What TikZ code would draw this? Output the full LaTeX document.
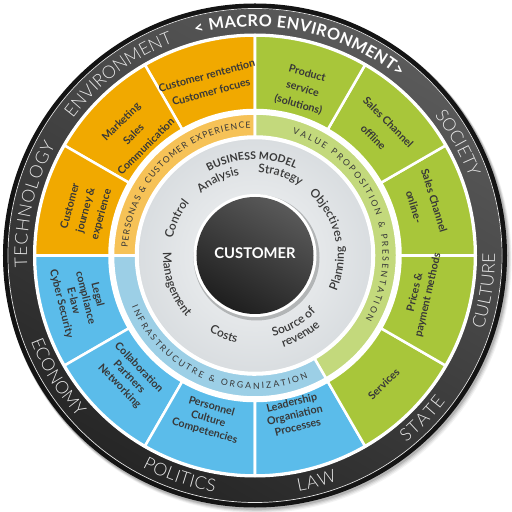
\documentclass[tikz,border=0pt]{standalone}
\usepackage{fontspec}
\setmainfont{Lato}
\IfFontExistsTF{Lato Light}{\newfontfamily\ringfont{Lato Light}}{\newfontfamily\ringfont{Lato}}
\IfFontExistsTF{Lato Semibold}{\newfontfamily\wordfont{Lato Semibold}}{\newcommand\wordfont{\bfseries}}
\usetikzlibrary{decorations.text}
\usepackage{xcolor}

\definecolor{ringdark}{HTML}{262626}
\definecolor{ringlight}{HTML}{5A5A5A}
\definecolor{ringedge}{HTML}{141414}
\definecolor{ringtext}{HTML}{E9E9E9}
\definecolor{orangecell}{HTML}{F1A900}
\definecolor{orangeband}{HTML}{F6C257}
\definecolor{greencell}{HTML}{A8C63A}
\definecolor{greenband}{HTML}{C3D97C}
\definecolor{bluecell}{HTML}{5BBCEA}
\definecolor{blueband}{HTML}{9CCFE6}
\definecolor{greyring}{HTML}{D9DDE0}
\definecolor{txtdark}{HTML}{383838}

\tikzset{
        cell/.style={fill=#1, draw=white, line width=1.8pt, line join=round},
        celltext/.style={text=txtdark, align=center, inner sep=0pt,
            font=\bfseries\fontsize{7.6}{#1}\selectfont},
}

\newcommand\outerfont{\ringfont\fontsize{12.5}{14}\selectfont\color{ringtext}}
\newcommand\bandfont{\fontsize{6.2}{7}\selectfont\color{txtdark}}

% annular sector: start, end, inner radius, outer radius, style
\newcommand\ringsector[5]{%
        \path[#5] (#1:#4) arc[start angle=#1, end angle=#2, radius=#4]
            -- (#2:#3) arc[start angle=#2, end angle=#1, radius=#3] -- cycle;}
% text spread along an arc: radius, from, to, format, text
\newcommand\ringlabel[5]{%
        \path[decorate, decoration={text along path, text align=fit to path,
            text={|#4|#5}}] (#2:#1) arc[start angle=#2, end angle=#3, radius=#1];}
% word centred on an arc: radius, from, to, text
\newcommand\ringword[4]{%
        \path[decorate, decoration={text along path, text align=center,
            text={|\wordfont\fontsize{8.5}{10}\selectfont\color{txtdark}|#4}}]
            (#2:#1) arc[start angle=#2, end angle=#3, radius=#1];}

\begin{document}
\begin{tikzpicture}[x=0.025cm, y=0.025cm]
        \useasboundingbox (-255,-256.5) rectangle (257,255.5);

        % outer ring
        \foreach \s/\o in {5/0.05,4/0.07,3/0.09,2/0.12}
            \fill[black, opacity=\o] (0.6*\s,-0.8*\s) circle[radius=252+0.3*\s];
        \fill[ringedge] (0,0) circle[radius=252];
        \shade[top color=ringlight, bottom color=ringdark, shading angle=-30] (0,0) circle[radius=246.5];
        \draw[white!80!gray, line width=0.5pt] (0,0) circle[radius=247];
        \fill[white] (0,0) circle[radius=222];

        % cells and bands
        \foreach \a/\c [evaluate=\a as \b using int(\a+30)] in {90/orangecell,120/orangecell,150/orangecell,
            180/bluecell,210/bluecell,240/bluecell,270/bluecell,
            -60/greencell,-30/greencell,0/greencell,30/greencell,60/greencell}
            \ringsector{\a}{\b}{145.5}{220}{cell=\c};
        \ringsector{90}{180}{119}{142}{cell=orangeband}
        \ringsector{-60}{90}{119}{142}{cell=greenband}
        \ringsector{180}{300}{119}{142}{cell=blueband}

        % business model ring and centre
        \path[inner color=white!70!greyring, outer color=greyring, draw=white, line width=1.8pt] (0,0) circle[radius=117.5];
        \fill[black, opacity=0.22] (1.5,-2) circle[radius=63];
        \fill[white] (0,0) circle[radius=61.5];
        \shade[top color=black!65, bottom color=black!88, shading angle=-30] (0,0) circle[radius=58.5];
        \node[text=white, font=\bfseries\fontsize{10.5}{12}\selectfont] (customer) at (0,2) {CUSTOMER};

        % cell texts
        \node[celltext=12, rotate=15] (retention) at (105:178) {Customer rentention\\Customer focues};
        \node[celltext=12.5, rotate=45] (marketing) at (135:172) {Marketing\\Sales\\Communication};
        \node[celltext=11.5, rotate=75] (journey) at (165:175) {Customer\\journey \&\\experience};
        \node[celltext=8.8, rotate=-76] (legal) at (194:181) {Legal\\compliance\\E-law\\Cyber Security};
        \node[celltext=9.5, rotate=-46] (collab) at (224:175) {Collaboration\\Partners\\Networking};
        \node[celltext=9, rotate=-16] (personnel) at (254:170) {Personnel\\Culture\\Competencies};
        \node[celltext=9, rotate=14] (leadership) at (-76:164) {Leadership\\Organiation\\Processes};
        \node[celltext=9, rotate=45] (services) at (-45:182) {Services};
        \node[celltext=9.5, rotate=77] (prices) at (-13:171) {Prices \&\\payment methods};
        \node[celltext=15, rotate=-73] (online) at (17:177) {Sales Channel\\online-};
        \node[celltext=15, rotate=-45] (offline) at (45:178) {Sales Channel\\offline};
        \node[celltext=11.5, rotate=-16] (product) at (74:173) {Product\\service\\(solutions)};

        % band texts
        \ringlabel{127.5}{176.5}{92}{\bandfont}{PERSONAS {\&} CUSTOMER EXPERIENCE}
        \ringlabel{127.5}{73}{-30}{\bandfont}{VALUE PROPOSITION {\&} PRESENTATION}
        \ringlabel{133.5}{202.6}{293.4}{\bandfont}{INFRASTRUCUTRE {\&} ORGANIZATION}

        % business model words
        \path[decorate, decoration={text along path, text align=center,
            text={|\bfseries\fontsize{7.5}{9}\selectfont\color{txtdark}|BUSINESS MODEL}}]
            (132:96) arc[start angle=132, end angle=52, radius=96];
        \ringword{82}{156}{76}{Analysis}
        \ringword{83}{112.5}{32.5}{Strategy}
        \ringword{82}{69}{-11}{Objectives}
        \ringword{89}{-49}{31}{Planning}
        \ringword{83}{-100}{-20}{Source of}
        \ringword{96}{-100}{-20}{revenue}
        \ringword{89}{208.5}{288.5}{Costs}
        \ringword{92}{160}{240}{Management}
        \ringword{84}{195}{115}{Control}

        % macro environment
        \ringlabel{229}{105}{51}{\bfseries\fontsize{11.5}{13}\selectfont\color{white}}{< MACRO ENVIRONMENT>}
        \ringlabel{228}{183}{151}{\outerfont}{TECHNOLOGY}
        \ringlabel{228}{143}{111}{\outerfont}{ENVIRONMENT}
        \ringlabel{228}{38}{20}{\outerfont}{SOCIETY}
        \ringlabel{240}{-18}{-0.5}{\outerfont}{CULTURE}
        \ringlabel{240}{-51}{-37.5}{\outerfont}{STATE}
        \ringlabel{240}{-79.6}{-70}{\outerfont}{LAW}
        \ringlabel{240}{-118}{-99.7}{\outerfont}{POLITICS}
        \ringlabel{240}{201}{222}{\outerfont}{ECONOMY}
\end{tikzpicture}
\end{document}
